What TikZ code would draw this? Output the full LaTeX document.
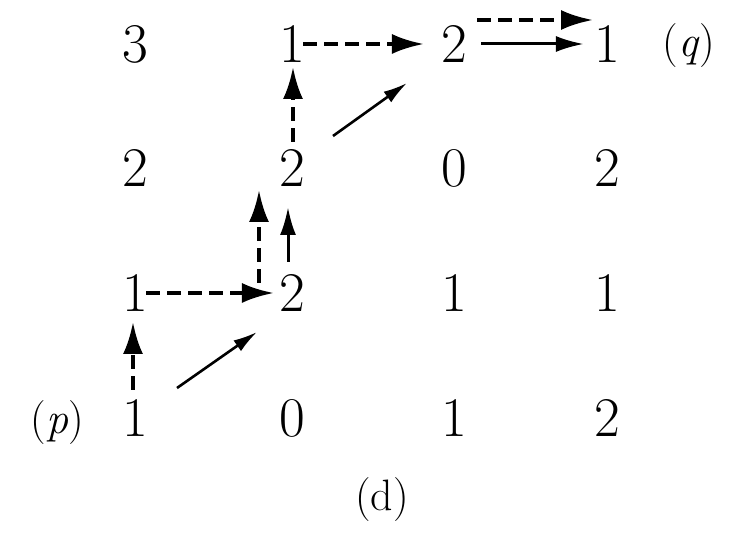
\documentclass[tikz,border=0pt]{standalone}
\usetikzlibrary{arrows.meta}
\begin{document}
\begin{tikzpicture}[x=1pt,y=-1pt,
  num/.style={inner sep=0pt,font=\fontsize{56}{56}\selectfont},
  lbl/.style={inner sep=0pt,font=\fontsize{44}{44}\selectfont},
  dasharrow/.style={line width=4pt,dash pattern=on 14pt off 7pt,-{Latex[length=32pt,width=20pt]}},
  solidarrow/.style={line width=3pt,-{Latex[length=28pt,width=16pt]}},
  diagarrow/.style={line width=2.6pt,-{Latex[length=24pt,width=13pt]}}]
\useasboundingbox (0,0) rectangle (740,534);
% grid of numbers
\node[num] (n00) at (135,44) {3};
\node[num] (n01) at (292,44) {1};
\node[num] (n02) at (454,44) {2};
\node[num] (n03) at (607,44) {1};
\node[num] (n10) at (135,168) {2};
\node[num] (n11) at (292,168) {2};
\node[num] (n12) at (454,168) {0};
\node[num] (n13) at (607,168) {2};
\node[num] (n20) at (135,293) {1};
\node[num] (n21) at (292,293) {2};
\node[num] (n22) at (454,293) {1};
\node[num] (n23) at (607,293) {1};
\node[num] (n30) at (135,418) {1};
\node[num] (n31) at (292,418) {0};
\node[num] (n32) at (454,418) {1};
\node[num] (n33) at (607,418) {2};
% labels
\node[lbl] (q) at (689,46) {(\textit{q})};
\node[lbl] (p) at (57,423) {(\textit{p})};
\node[lbl] (cap) at (382,500) {(d)};
% connectors
\draw[dasharrow] ([shift={(-2pt,28pt)}]n30.center) -- ([shift={(-2pt,-29pt)}]n20.center);
\draw[diagarrow] ([shift={(42pt,30pt)}]n30.center) -- ([shift={(-35pt,-39pt)}]n21.center);
\draw[dasharrow] ([xshift=-2pt]n20.east) -- ([xshift=-5pt]n21.west);
\draw[dasharrow] ([shift={(-33pt,10pt)}]n21.center) -- ([shift={(-33pt,-22pt)}]n11.center);
\draw[solidarrow] ([shift={(-4pt,31pt)}]n21.center) -- ([shift={(-4pt,-39pt)}]n11.center);
\draw[dasharrow] ([shift={(1pt,26pt)}]n11.center) -- ([shift={(1pt,-23pt)}]n01.center);
\draw[diagarrow] ([shift={(41pt,32pt)}]n11.center) -- ([shift={(-47pt,-39pt)}]n02.center);
\draw[dasharrow] ([xshift=-2pt]n01.east) -- ([xshift=-17pt]n02.west);
\draw[solidarrow] ([xshift=14pt]n02.east) -- ([xshift=-10pt]n03.west);
\draw[dasharrow] ([shift={(23pt,24pt)}]n02.center) -- ([shift={(-14pt,24pt)}]n03.center);
\end{tikzpicture}
\end{document}
